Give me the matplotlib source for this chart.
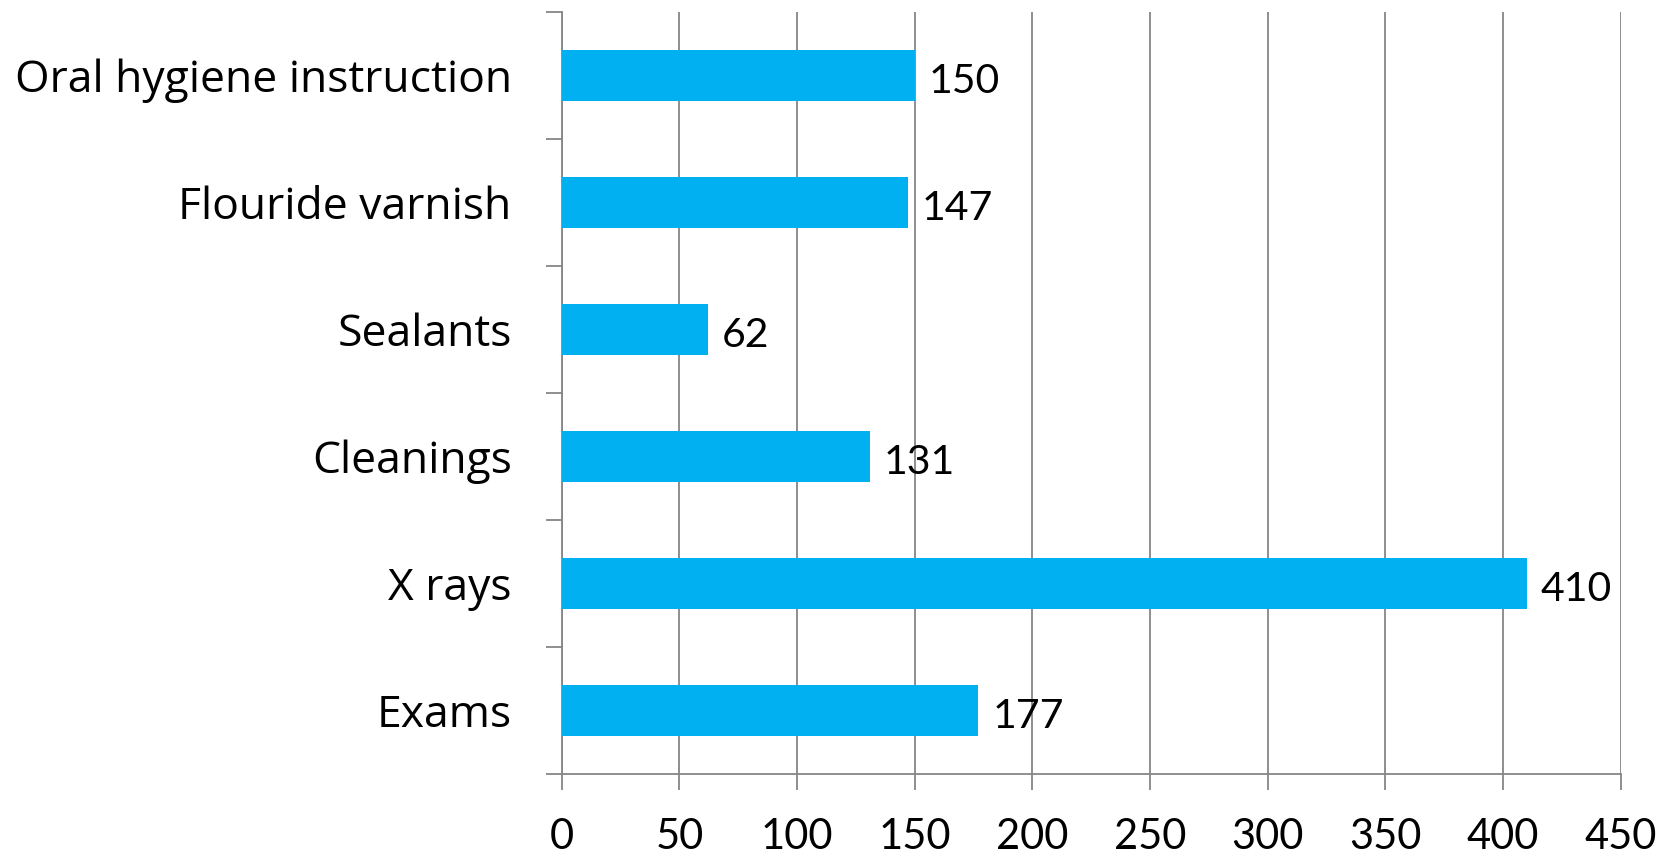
import numpy as np
import matplotlib.pyplot as plt
from matplotlib.ticker import MultipleLocator, FixedLocator

# data, bottom to top as drawn
categories = ["Exams", "X rays", "Cleanings", "Sealants", "Flouride varnish", "Oral hygiene instruction"]
counts = [177, 410, 131, 62, 147, 150]

plt.rcParams['font.family'] = ['Lato', 'DejaVu Sans']

fig = plt.figure(figsize=(16.59, 8.58), dpi=100)
ax = fig.add_axes([0.3386, 0.0979, 0.9769 - 0.3386, 0.986 - 0.0979])

y = np.arange(len(categories))
ax.barh(y, counts, height=0.4, color='#00B0F0', zorder=3)

for yi, v in zip(y, counts):
    ax.annotate(str(v), (v, yi), xytext=(10, -4), textcoords='offset points',
                va='center', ha='left', fontsize=29.5, color='black')

ax.set_xlim(0, 450)
ax.set_ylim(-0.5, len(categories) - 0.5)
ax.xaxis.set_major_locator(MultipleLocator(50))
ax.set_yticks(y)
ax.set_yticklabels(categories, family=['Open Sans', 'DejaVu Sans'], fontsize=32)
ax.yaxis.set_minor_locator(FixedLocator(np.arange(-0.5, len(categories), 1.0)))

ax.grid(axis='x', color='#868686', linewidth=1.3, zorder=0)
for s in ['top', 'right']:
    ax.spines[s].set_visible(False)
for s in ['left', 'bottom']:
    ax.spines[s].set_color('#868686')
    ax.spines[s].set_linewidth(1.3)

ax.tick_params(axis='y', which='major', length=0, pad=36)
ax.tick_params(axis='y', which='minor', length=11.5, width=1.3, color='#868686')
ax.tick_params(axis='x', which='major', length=11.5, width=1.3, color='#868686', pad=20, labelsize=30)

fig.savefig("out.png", dpi=100)
